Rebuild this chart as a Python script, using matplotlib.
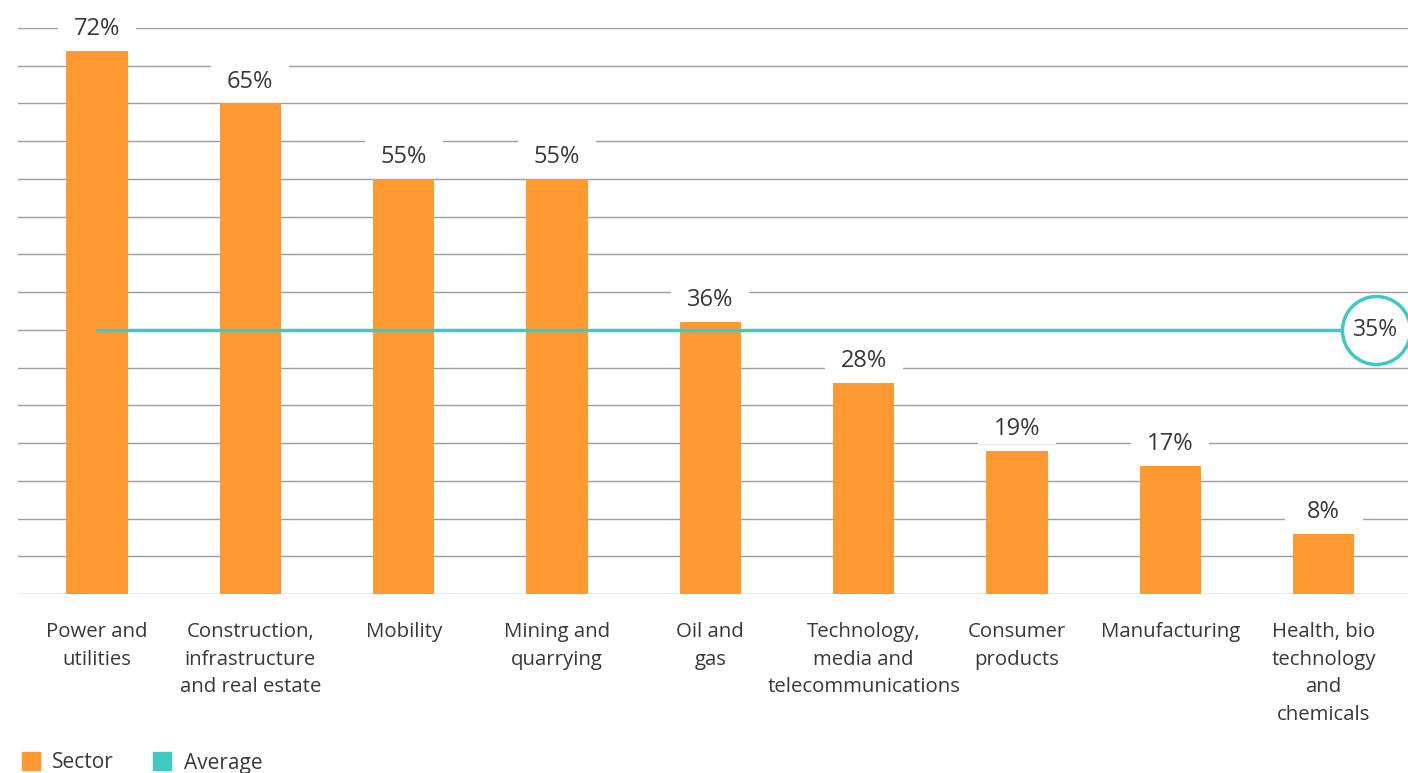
import matplotlib.pyplot as plt
from matplotlib.patches import Rectangle

sectors = ["Power and\nutilities", "Construction,\ninfrastructure\nand real estate",
           "Mobility", "Mining and\nquarrying", "Oil and\ngas",
           "Technology,\nmedia and\ntelecommunications", "Consumer\nproducts",
           "Manufacturing", "Health, bio\ntechnology\nand\nchemicals"]
values = [72, 65, 55, 55, 36, 28, 19, 17, 8]
average = 35

orange = "#FF9A33"
teal = "#40C9C0"
text_col = "#383838"

plt.rcParams['font.family'] = ['Open Sans', 'DejaVu Sans']

fig = plt.figure(figsize=(14.08, 7.73), dpi=100)
ax = fig.add_axes([18 / 1408, 179 / 773, 1 - 18 / 1408, (594 - 28) / 773])

x = list(range(len(values)))
ax.bar(x, values, width=0.4, color=orange, zorder=2)

for yv in range(0, 80, 5):
    ax.axhline(yv, color="#9c9ca4", lw=1.0, zorder=0)

# value labels sit in a white box that cuts the gridlines
for i, v in enumerate(values):
    ax.add_patch(Rectangle((i - 0.255, v + 0.9), 0.51, 4.2, facecolor="white",
                           edgecolor="none", zorder=1, clip_on=False))
    ax.text(i, v + 2.9, f"{v}%", ha="center", va="center", fontsize=17,
            color=text_col, zorder=3, clip_on=False)

circ_x = 8.34
ax.plot([0, circ_x], [average, average], color=teal, lw=2.5, zorder=4)
ax.plot([circ_x], [average], marker="o", markersize=49, markerfacecolor="white",
        markeredgecolor=teal, markeredgewidth=2.5, zorder=5, clip_on=False)
ax.text(circ_x, average, f"{average}%", ha="center", va="center", fontsize=16.5,
        color=text_col, zorder=6, clip_on=False)

ax.set_xlim(-0.515, 8.55)
ax.set_ylim(0, 75)
ax.set_xticks(x)
ax.set_xticklabels(sectors, fontsize=14.7, color=text_col, linespacing=1.5, va="top")
ax.tick_params(axis="x", length=0, pad=20.5)
ax.set_yticks([])
for s in ax.spines.values():
    s.set_visible(False)

# legend
fig.patches.append(Rectangle((22 / 1408, 3 / 773), 18 / 1408, 18 / 773,
                             transform=fig.transFigure, color=orange))
fig.text(52 / 1408, 10 / 773, "Sector", fontsize=15, color=text_col, va="center")
fig.patches.append(Rectangle((153 / 1408, 3 / 773), 18 / 1408, 18 / 773,
                             transform=fig.transFigure, color=teal))
fig.text(184 / 1408, 10 / 773, "Average", fontsize=15, color=text_col, va="center")

fig.savefig("out.png", dpi=100)
